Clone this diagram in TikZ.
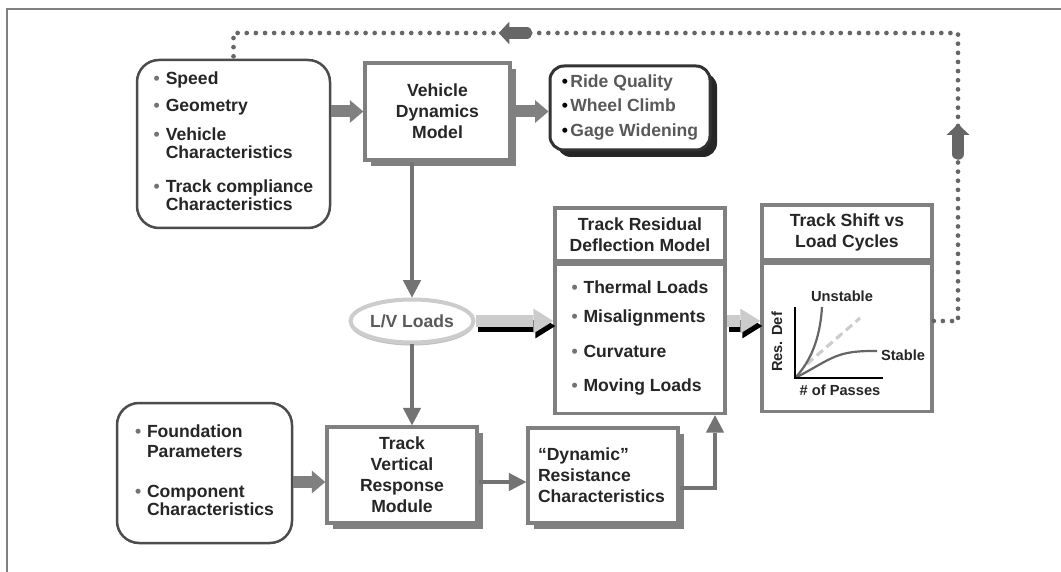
\documentclass[tikz,border=0pt]{standalone}
\usepackage{fontspec}
\setmainfont{Liberation Sans}
\usetikzlibrary{arrows.meta,positioning,shapes.geometric,shadows,decorations.markings}

\newcommand{\pxl}{0.03cm}
\newcommand{\bul}{{\color{black!55}\textbullet}}
\newcommand{\bbul}{{\color{black}\textbullet}}

\tikzstyle{txt} = [text=black!85, font=\fontsize{15}{15.5}\selectfont\bfseries]
\tikzstyle{ttl} = [text=black!85, font=\fontsize{15}{18}\selectfont\bfseries, align=center]
\tikzstyle{glbl} = [text=black!85, font=\fontsize{12.5}{13}\selectfont\bfseries, inner sep=0pt]
\tikzstyle{inbox} = [txt, draw=black!70, line width=2.5*\pxl, rounded corners=22*\pxl, fill=white, inner sep=0pt]
\tikzstyle{outbox} = [txt, text=black!65, draw=black!80, line width=3*\pxl, rounded corners=14*\pxl, fill=white, inner sep=0pt,
    drop shadow={shadow xshift=7*\pxl, shadow yshift=-7*\pxl, fill=black!85, opacity=1}]
\tikzstyle{model} = [ttl, draw=black!50, line width=3.5*\pxl, fill=white, inner sep=0pt,
    drop shadow={shadow xshift=6*\pxl, shadow yshift=-6*\pxl, fill=black!50, opacity=1}]
\tikzstyle{panel} = [draw=black!50, line width=3.5*\pxl, fill=white, inner sep=0pt]
\tikzstyle{lvnode} = [ellipse, draw=black!20, line width=4*\pxl, fill=white, text=black!65, inner sep=0pt,
    font=\fontsize{15}{15.5}\selectfont\bfseries,
    drop shadow={shadow xshift=0pt, shadow yshift=-3*\pxl, fill=black!25, opacity=1}]
\tikzstyle{bigarrow} = [draw=black!50, line width=12*\pxl, -{Triangle[length=0.4cm,width=0.68cm,line width=0pt]}]
\tikzstyle{linearrow} = [draw=black!55, line width=4*\pxl, -{Triangle[length=0.52cm,width=0.55cm,line width=0pt]}]
\tikzstyle{lvarrow} = [draw=black!20, line width=12*\pxl, -{Triangle[length=0.6cm,width=0.75cm,line width=0pt]}]
\tikzstyle{lvshadow} = [lvarrow, draw=black, transform canvas={xshift=2*\pxl, yshift=-5*\pxl}]
\tikzstyle{fbhead} = [draw=black!60, solid, line width=0.34cm, -{Triangle[length=0.32cm,width=0.68cm,line width=0pt]}]
\tikzstyle{fbline} = [draw=black!60, line width=4pt, line cap=round, dash pattern=on 0pt off 7.8pt,
    postaction={decorate}, decoration={markings,
      mark=at position 0.194 with {\draw[fbhead] (-0.45cm,0) -- (0.45cm,0);},
      mark=at position 0.713 with {\draw[fbhead] (-0.42cm,0) -- (0.42cm,0);}}]
\tikzstyle{frame} = [draw=black!50, line width=1.5*\pxl]
\tikzstyle{axis} = [draw=black, line width=1.6*\pxl]
\tikzstyle{curve} = [draw=black!60, line width=2.2*\pxl]
\tikzstyle{trend} = [draw=black!20, line width=3*\pxl, dash pattern=on 7pt off 4pt]

\begin{document}
\begin{tikzpicture}[x=0.03cm, y=-0.03cm]
\useasboundingbox (0,0) rectangle (1061,572);
\fill[white] (0,0) rectangle (1061,572);
\draw[frame] (7,572) -- (7,9) -- (1061,9);

% inputs
\node[inbox, minimum width=193*\pxl, minimum height=168*\pxl] (in1) at (233.5,144) {%
  \begin{tabular}{@{}l@{\hspace{5pt}}l@{}}
  \bul & Speed\\[7.5pt]
  \bul & Geometry\\[9pt]
  \bul & Vehicle\\
       & Characteristics\\[14pt]
  \bul & Track compliance\\
       & Characteristics
  \end{tabular}};
\node[inbox, minimum width=175*\pxl, minimum height=140*\pxl] (in2) at (204.5,473) {%
  \begin{tabular}{@{}l@{\hspace{5pt}}l@{}}
  \bul & Foundation\\[1.5pt]
       & Parameters\\[19pt]
  \bul & Component\\
       & Characteristics
  \end{tabular}};

% models
\node[model, minimum width=145*\pxl, minimum height=97*\pxl] (vdm) at (437.5,111.5) {Vehicle\\Dynamics\\Model};
\node[outbox, minimum width=160*\pxl, minimum height=84*\pxl] (out) at (630,108) {%
  \begin{tabular}{@{}l@{\hspace{2pt}}l@{}}
  \bbul & Ride Quality\\[5.5pt]
  \bbul & Wheel Climb\\[5.5pt]
  \bbul & Gage Widening
  \end{tabular}};
\node[lvnode, minimum width=123*\pxl, minimum height=43*\pxl] (lv) at (412,321) {L/V Loads};
\node[model, minimum width=150*\pxl, minimum height=96*\pxl] (tvrm) at (402,475) {Track\\Vertical\\Response\\Module};
\node[model, align=left, text width=130*\pxl, minimum width=150*\pxl, minimum height=95*\pxl] (drc) at (603,475.5) {“Dynamic”\\Resistance\\Characteristics};

% residual deflection
\node[panel, ttl, minimum width=170*\pxl, minimum height=53*\pxl] (trdmt) at (640,234.5) {Track Residual\\Deflection Model};
\node[panel, txt, minimum width=170*\pxl, minimum height=149*\pxl, below=0pt of trdmt] (trdmb) {%
  \begin{tabular}{@{}l@{\hspace{5pt}}l@{}}
  \bul & Thermal Loads\\[8.5pt]
  \bul & Misalignments\\[14.5pt]
  \bul & Curvature\\[13.5pt]
  \bul & Moving Loads
  \end{tabular}};

% track shift
\node[panel, ttl, minimum width=170*\pxl, minimum height=55*\pxl] (tslct) at (847,232.5) {Track Shift vs\\Load Cycles};
\node[panel, minimum width=170*\pxl, minimum height=148*\pxl, below=0pt of tslct] (tslcb) {};

% small plot
\coordinate (go) at (795,378);
\coordinate (gy) at (795,307);
\coordinate (gx) at (883,378);
\draw[trend] (807,364) -- (860,318);
\draw[curve] (go) .. controls (810,362) and (820,340) .. (822,307);
\draw[curve] (go) .. controls (815,368) and (828,358) .. (843,354) .. controls (855,351) and (865,351) .. (877,351);
\draw[axis] (gy) -- (go) -- (gx);
\node[glbl] (unst) at (842,296) {Unstable};
\node[glbl] (stab) at (903,355) {Stable};
\node[glbl] (pass) at (840,390) {\# of Passes};
\node[glbl, rotate=90] (resdef) at (777,342) {Res. Def};

% connectors
\coordinate (row) at (0,482);
\coordinate (row2) at (0,488);
\coordinate (up) at (715,0);
\coordinate (fbr) at (958,33);
\draw[bigarrow] (in1.east |- vdm) -- (vdm.west);
\draw[bigarrow] (vdm.east) -- (vdm.east -| out.west);
\draw[linearrow] (vdm.south -| lv) -- (lv.north);
\draw[linearrow] (lv.south) -- (lv.south |- tvrm.north);
\draw[bigarrow] (in2.east |- row) -- (tvrm.west |- row);
\draw[linearrow] (tvrm.east |- row) -- (drc.west |- row);
\draw[linearrow] (drc.east |- row2) -| (trdmb.south -| up);
\draw[lvshadow] (lv.east) -- (lv.east -| trdmb.west);
\draw[lvarrow] (lv.east) -- (lv.east -| trdmb.west);
\draw[lvshadow] (trdmb.east |- lv) -- (tslcb.west |- lv);
\draw[lvarrow] (trdmb.east |- lv) -- (tslcb.west |- lv);

% feedback
\draw[fbline] (tslcb.east |- lv) -| (fbr) -| (in1.north);
\end{tikzpicture}
\end{document}
